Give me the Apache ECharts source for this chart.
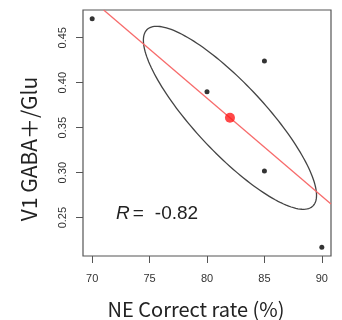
<!DOCTYPE html>
<html>
<head>
<meta charset="utf-8">
<script src="https://cdn.jsdelivr.net/npm/echarts@6/dist/echarts.min.js"></script>
<style>
  html, body { margin: 0; padding: 0; background: #fff; }
  #chart { width: 342px; height: 320px; }
</style>
</head>
<body>
<div id="chart"></div>
<script>
// values
const correctRate = [70, 80, 85, 85, 90];
const gabaGlu = [0.471, 0.390, 0.424, 0.302, 0.217];
const meanPoint = [82, 0.361];
const fitLine = [[71.0, 0.4807], [90.8, 0.2652]];
// ellipse: centre, half extents in x / y, and its tilt as a correlation
const ellipseCenter = [82, 0.361];
const ellipseHalfX = 7.54;
const ellipseHalfY = 0.1017;
const ellipseCorr = -0.847;
const xTicks = [70, 75, 80, 85, 90];
const yTicks = [0.25, 0.30, 0.35, 0.40, 0.45];

const TICK_FONT = "'Liberation Sans', Arial, sans-serif";
const TITLE_FONT = "'Noto Sans CJK JP', 'Noto Sans', sans-serif";

const chart = echarts.init(document.getElementById("chart"), null, { renderer: "canvas" });

chart.setOption({
  animation: false,
  backgroundColor: "#fff",
  grid: {
    left: 83, right: 11, top: 10, bottom: 64,
    show: true, borderColor: "#555", borderWidth: 1.2, backgroundColor: "#fff",
  },
  xAxis: {
    type: "value",
    min: 69.2,
    max: 90.8,
    axisLine: { show: false },
    splitLine: { show: false },
    axisTick: { show: true, length: 7, customValues: xTicks, lineStyle: { color: "#555" } },
    axisLabel: {
      customValues: xTicks,
      margin: 17,
      fontFamily: TICK_FONT,
      fontSize: 11,
      color: "#333",
    },
  },
  yAxis: {
    type: "value",
    min: 0.2074,
    max: 0.4808,
    axisLine: { show: false },
    splitLine: { show: false },
    axisTick: { show: true, length: 7, customValues: yTicks, lineStyle: { color: "#555" } },
    axisLabel: {
      customValues: yTicks,
      rotate: 90,
      margin: 15,
      fontFamily: TICK_FONT,
      fontSize: 11,
      color: "#333",
      formatter: (v) => v.toFixed(2),
    },
  },
  // axis titles sit off-centre in the original, so they are placed by hand
  graphic: [
    {
      type: "text",
      x: 196,
      y: 309,
      style: {
        text: "NE Correct rate (%)",
        font: "20px " + TITLE_FONT,
        fill: "#222",
        align: "center",
        verticalAlign: "middle",
      },
    },
    {
      type: "text",
      x: 29,
      y: 149,
      rotation: Math.PI / 2,
      style: {
        text: "V1 GABA＋/Glu",
        font: "21px " + TITLE_FONT,
        fill: "#222",
        align: "center",
        verticalAlign: "middle",
      },
    },
    {
      type: "text",
      left: 116,
      top: 204,
      style: {
        text: "{i|R}{e|=}{n|-0.82}",
        rich: {
          i: { fontStyle: "italic", fontFamily: TICK_FONT, fontSize: 19, fill: "#222" },
          e: { fontFamily: TICK_FONT, fontSize: 19, fill: "#222", padding: [0, 0, 0, 3] },
          n: { fontFamily: TICK_FONT, fontSize: 19, fill: "#222", padding: [0, 0, 0, 11] },
        },
      },
    },
  ],
  series: [
    {
      type: "custom",
      coordinateSystem: "cartesian2d",
      silent: true,
      data: [ellipseCenter],
      renderItem: (params, api) => {
        const pts = [];
        const s = Math.sqrt(1 - ellipseCorr * ellipseCorr);
        for (let i = 0; i <= 160; i++) {
          const t = (i / 160) * Math.PI * 2;
          const x = ellipseCenter[0] + ellipseHalfX * Math.cos(t);
          const y = ellipseCenter[1] + ellipseHalfY * (ellipseCorr * Math.cos(t) + s * Math.sin(t));
          pts.push(api.coord([x, y]));
        }
        return {
          type: "polyline",
          shape: { points: pts },
          style: { stroke: "#444", lineWidth: 1.3, fill: null },
        };
      },
      z: 2,
    },
    {
      type: "line",
      data: fitLine,
      symbol: "none",
      lineStyle: { color: "#f76b6b", width: 1.3 },
      z: 3,
    },
    {
      type: "scatter",
      data: correctRate.map((x, i) => [x, gabaGlu[i]]),
      symbolSize: 5,
      itemStyle: { color: "#000" },
      z: 4,
    },
    {
      type: "scatter",
      data: [meanPoint],
      symbolSize: 10,
      itemStyle: { color: "#ff1a1a" },
      z: 5,
    },
  ],
});
</script>
</body>
</html>
